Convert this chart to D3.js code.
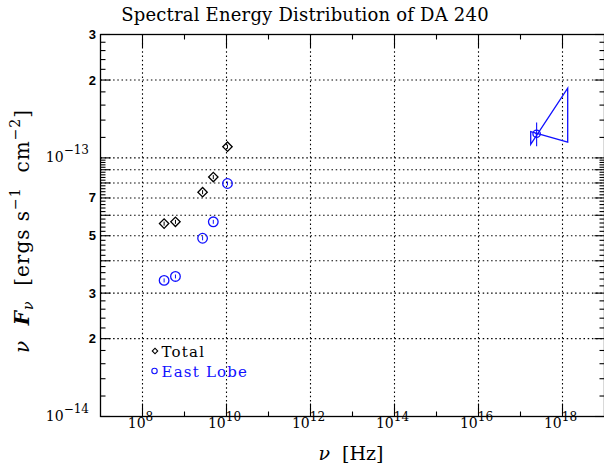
<!DOCTYPE html>
<html>
<head>
<meta charset="utf-8">
<script src="https://cdn.jsdelivr.net/npm/d3@7"></script>
<style>
  body { margin: 0; background: #fff; }
  svg { display: block; }
  text { white-space: pre; }
</style>
</head>
<body>
<svg id="chart" width="604" height="466"></svg>
<script>
// Radio frequencies (Hz) of the single-dish / interferometer measurements
const radioFreq = [3.27e8, 6.09e8, 2.695e9, 4.85e9, 1.055e10];
// nu*F_nu of the whole source (ergs s^-1 cm^-2)
const totalFlux = [5.57e-14, 5.66e-14, 7.37e-14, 8.43e-14, 1.105e-13];
const totalErr  = [1.0e-15, 1.0e-15, 1.3e-15, 1.5e-15, 2.0e-15];
// nu*F_nu of the east lobe alone
const lobeFlux = [3.36e-14, 3.48e-14, 4.89e-14, 5.66e-14, 7.96e-14];
const lobeErr  = [0.6e-15, 0.6e-15, 0.9e-15, 1.0e-15, 1.4e-15];

// X-ray power-law bowtie of the east lobe: band edges and the two limiting slopes
const xrayBand  = [1.75e17, 1.33e18];
const xraySteep = [1.128e-13, 1.86e-13];
const xrayFlat  = [1.264e-13, 1.151e-13];
// 1 keV pivot point with its error bars
const xrayPivotFreq = [2.42e17];
const xrayPivotFlux = [1.24e-13];
const xrayPivotLo   = [1.11e-13];
const xrayPivotHi   = [1.369e-13];
const xrayPivotFreqLo = [2.22e17];
const xrayPivotFreqHi = [2.64e17];

// Axis ticks
const xMajor = [1e8, 1e10, 1e12, 1e14, 1e16, 1e18];
const xMinor = [1e9, 1e11, 1e13, 1e15, 1e17];
const xLabelExp = ["8", "10", "12", "14", "16", "18"];
const yLabelVals = [1e-14, 2e-14, 3e-14, 5e-14, 7e-14, 1e-13, 2e-13, 3e-13];
const yLabelText = ["10|−14", "2", "3", "5", "7", "10|−13", "2", "3"];
const yGrid = [2e-14, 3e-14, 4e-14, 5e-14, 6e-14, 7e-14, 8e-14, 9e-14, 1e-13, 2e-13];

const BLUE = "#1010ff";
const SERIF = "'DejaVu Serif', 'Liberation Serif', serif";
const SANS = "'Liberation Sans', Arial, sans-serif";

const svg = d3.select("#chart");
const L = 100.5, R = 604.5, T = 34.5, B = 416.5;
const x = d3.scaleLog().domain([1e7, 1e19]).range([L, R]);
const y = d3.scaleLog().domain([1e-14, 3e-13]).range([B, T]);

// y minor ticks: steps of 0.2 within each decade
const yMajorTicks = [], yMinorTicks = [];
for (let m = 1; m <= 9; m++) yMajorTicks.push(m * 1e-14);
yMajorTicks.push(1e-13, 2e-13, 3e-13);
for (let k = 10; k < 100; k += 2) if (k % 10) yMinorTicks.push(k * 1e-15);
for (let k = 10; k < 30; k += 2) if (k % 10) yMinorTicks.push(k * 1e-14);

// Dotted grid
const grid = svg.append("g").attr("stroke", "#000").attr("stroke-width", 1.1)
  .attr("stroke-dasharray", "1.5,2.7");
grid.selectAll(".gx").data(xMajor).join("line")
  .attr("x1", d => x(d)).attr("x2", d => x(d)).attr("y1", T).attr("y2", B);
grid.selectAll(".gy").data(yGrid).join("line")
  .attr("x1", L).attr("x2", R).attr("y1", d => y(d)).attr("y2", d => y(d));

// Axes with inward ticks on all four sides
function noDomain(g) { g.select(".domain").remove(); }
const axes = svg.append("g").attr("stroke-width", 1.1);
axes.append("g").attr("transform", `translate(0,${B})`)
  .call(d3.axisBottom(x).tickValues(xMajor).tickSize(-13).tickFormat("").offset(0)).call(noDomain);
axes.append("g").attr("transform", `translate(0,${B})`)
  .call(d3.axisBottom(x).tickValues(xMinor).tickSize(-5).tickFormat("").offset(0)).call(noDomain);
axes.append("g").attr("transform", `translate(0,${T})`)
  .call(d3.axisTop(x).tickValues(xMajor).tickSize(-13).tickFormat("").offset(0)).call(noDomain);
axes.append("g").attr("transform", `translate(0,${T})`)
  .call(d3.axisTop(x).tickValues(xMinor).tickSize(-5).tickFormat("").offset(0)).call(noDomain);
axes.append("g").attr("transform", `translate(${L},0)`)
  .call(d3.axisLeft(y).tickValues(yMajorTicks).tickSize(-10).tickFormat("").offset(0)).call(noDomain);
axes.append("g").attr("transform", `translate(${L},0)`)
  .call(d3.axisLeft(y).tickValues(yMinorTicks).tickSize(-5).tickFormat("").offset(0)).call(noDomain);
axes.append("g").attr("transform", `translate(${R},0)`)
  .call(d3.axisRight(y).tickValues(yMajorTicks).tickSize(-10).tickFormat("").offset(0)).call(noDomain);
axes.append("g").attr("transform", `translate(${R},0)`)
  .call(d3.axisRight(y).tickValues(yMinorTicks).tickSize(-5).tickFormat("").offset(0)).call(noDomain);

svg.append("rect").attr("x", L).attr("y", T).attr("width", R - L).attr("height", B - T)
  .attr("fill", "none").attr("stroke", "#000").attr("stroke-width", 1.3);

// x tick labels: 10^n
const xl = svg.append("g").style("font-family", SERIF).attr("fill", "#000");
xMajor.forEach((v, i) => {
  const t = xl.append("text").attr("x", x(v) - 2).attr("y", 428).attr("text-anchor", "middle")
    .style("font-size", "14px");
  t.append("tspan").text("10");
  t.append("tspan").attr("dy", -7).style("font-size", "12px").text(xLabelExp[i]);
});

// y tick labels
const yl = svg.append("g").attr("fill", "#000");
yLabelVals.forEach((v, i) => {
  const s = yLabelText[i];
  if (s.includes("|")) {
    const [base, ex] = s.split("|");
    const t = yl.append("text").attr("x", 89).attr("y", y(v) + 4).attr("text-anchor", "end")
      .style("font-family", SERIF).style("font-size", "14px");
    t.append("tspan").text(base);
    t.append("tspan").attr("dy", -8).style("font-size", "12px").text(ex);
  } else {
    yl.append("text").attr("x", 96).attr("y", y(v) + 4.5).attr("text-anchor", "end")
      .style("font-family", SANS).style("font-weight", "bold").style("font-size", "13px").text(s);
  }
});

// Title
svg.append("text").attr("x", 305).attr("y", 21).attr("text-anchor", "middle")
  .style("font-family", SERIF).style("font-size", "18px").style("letter-spacing", "0.2px")
  .text("Spectral Energy Distribution of DA 240");

// x axis title
const xt = svg.append("text").attr("x", 351).attr("y", 460).attr("text-anchor", "middle")
  .style("font-family", SERIF).style("font-size", "19px");
xt.append("tspan").style("font-style", "italic").text("ν");
xt.append("tspan").text("  [Hz]");

// y axis title
const yt = svg.append("text").attr("transform", "translate(29,231) rotate(-90)")
  .attr("text-anchor", "middle").style("font-family", SERIF).style("font-size", "20px")
  .style("letter-spacing", "1px");
yt.append("tspan").style("font-style", "italic").text("ν  ");
yt.append("tspan").style("font-style", "italic").style("font-weight", "bold").text("F");
yt.append("tspan").attr("dy", 4).style("font-style", "italic").style("font-size", "14px").text("ν");
yt.append("tspan").attr("dy", -4).text("  [ergs s");
yt.append("tspan").attr("dy", -9).style("font-size", "14px").text("−1");
yt.append("tspan").attr("dy", 9).text("  cm");
yt.append("tspan").attr("dy", -9).style("font-size", "14px").text("−2");
yt.append("tspan").attr("dy", 9).text("]");

// Radio points
const total = radioFreq.map((f, i) => ({ f, v: totalFlux[i], e: totalErr[i] }));
const lobe = radioFreq.map((f, i) => ({ f, v: lobeFlux[i], e: lobeErr[i] }));

const diamond = d3.symbol(d3.symbolSquare, 44);
const gt = svg.append("g").attr("stroke", "#000").attr("stroke-width", 1.3).attr("fill", "none");
gt.selectAll("path").data(total).join("path")
  .attr("d", diamond)
  .attr("transform", d => `translate(${x(d.f)},${y(d.v)}) rotate(45)`);
gt.selectAll("line").data(total).join("line")
  .attr("x1", d => x(d.f)).attr("x2", d => x(d.f))
  .attr("y1", d => y(d.v - d.e)).attr("y2", d => y(d.v + d.e)).attr("stroke-width", 1);

const gl = svg.append("g").attr("stroke", BLUE).attr("stroke-width", 1.3).attr("fill", "none");
gl.selectAll("circle").data(lobe).join("circle")
  .attr("cx", d => x(d.f)).attr("cy", d => y(d.v)).attr("r", 4.8);
gl.selectAll("line").data(lobe).join("line")
  .attr("x1", d => x(d.f)).attr("x2", d => x(d.f))
  .attr("y1", d => y(d.v - d.e)).attr("y2", d => y(d.v + d.e)).attr("stroke-width", 1);

// X-ray bowtie
const bow = [
  [xrayBand[0], xrayFlat[0]], [xrayBand[1], xrayFlat[1]],
  [xrayBand[1], xraySteep[1]], [xrayBand[0], xraySteep[0]]
];
svg.append("path")
  .attr("d", d3.line().x(d => x(d[0])).y(d => y(d[1]))(bow) + "Z")
  .attr("fill", "none").attr("stroke", BLUE).attr("stroke-width", 1.3);
const pv = svg.append("g").attr("stroke", BLUE).attr("fill", "none").attr("stroke-width", 1.3);
xrayPivotFreq.forEach((f, i) => {
  pv.append("circle").attr("cx", x(f)).attr("cy", y(xrayPivotFlux[i])).attr("r", 3.7);
  pv.append("line").attr("x1", x(f)).attr("x2", x(f))
    .attr("y1", y(xrayPivotLo[i])).attr("y2", y(xrayPivotHi[i])).attr("stroke-width", 1.1);
  pv.append("line").attr("x1", x(xrayPivotFreqLo[i])).attr("x2", x(xrayPivotFreqHi[i]))
    .attr("y1", y(xrayPivotFlux[i])).attr("y2", y(xrayPivotFlux[i])).attr("stroke-width", 1.1);
});

// Legend
const lg = svg.append("g").style("font-family", SERIF).style("font-size", "15px")
  .style("letter-spacing", "1.2px");
lg.append("path").attr("d", d3.symbol(d3.symbolSquare, 15)())
  .attr("transform", "translate(155,351) rotate(45)")
  .attr("fill", "none").attr("stroke", "#000").attr("stroke-width", 1.1);
lg.append("text").attr("x", 161.5).attr("y", 356.7).attr("fill", "#000").text("Total");
lg.append("circle").attr("cx", 154.5).attr("cy", 371).attr("r", 2.7)
  .attr("fill", "none").attr("stroke", BLUE).attr("stroke-width", 1.1);
lg.append("text").attr("x", 161.5).attr("y", 376.7).attr("fill", BLUE).text("East Lobe");
</script>
</body>
</html>
